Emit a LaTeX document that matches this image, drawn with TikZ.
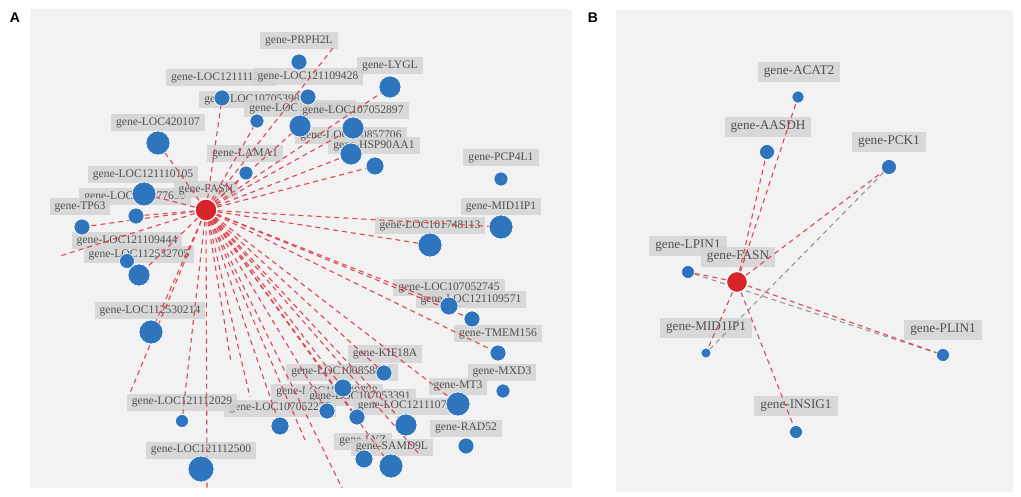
\documentclass[tikz,border=0pt]{standalone}
\usepackage{fontspec}
\setmainfont{Liberation Serif}
\newfontfamily\panelfont{Liberation Sans}
\definecolor{bgc}{RGB}{242,242,242}
\definecolor{nodeblue}{RGB}{46,117,190}
\definecolor{nodered}{RGB}{214,36,40}
\definecolor{edgered}{RGB}{222,70,80}
\definecolor{edgegray}{RGB}{150,150,150}
\definecolor{labfill}{RGB}{212,212,212}
\definecolor{labtext}{RGB}{80,80,80}
\pgfdeclarelayer{bg}\pgfdeclarelayer{labels}\pgfdeclarelayer{edges}
\pgfsetlayers{bg,labels,edges,main}
\tikzset{
  gnode/.style={circle, fill=nodeblue, draw=white, line width=0.6pt, inner sep=0pt},
  fnode/.style={circle, fill=nodered, draw=white, line width=1.2pt, inner sep=0pt},
  glab/.style={fill=labfill, fill opacity=0.85, text opacity=1, text=labtext, inner xsep=5pt, inner ysep=0pt, minimum height=17pt, font=\fontsize{11.6}{12}\selectfont},
  glabB/.style={glab, minimum height=20pt, inner xsep=6pt, font=\fontsize{13.2}{14}\selectfont},
  redline/.style={draw=edgered, line width=1.1pt, dash pattern=on 5pt off 4pt},
  grayline/.style={draw=edgegray, line width=1.1pt, dash pattern=on 5pt off 4pt},
  panel/.style={font=\panelfont\bfseries\fontsize{14}{14}\selectfont, inner sep=0pt}
}
\begin{document}
\begin{tikzpicture}[x=1pt,y=-1pt]
\useasboundingbox (0,0) rectangle (1021,497);
\begin{pgfonlayer}{bg}
\fill[bgc] (30,9) rectangle (572,488);
\fill[bgc] (616,10) rectangle (1013,492);
\end{pgfonlayer}
\node[panel] (pA) at (15,18) {A};
\node[panel] (pB) at (593,18) {B};

% ---------- Panel A nodes ----------
\node[gnode, minimum size=16pt] (aPRPH2L) at (299,62) {};
\node[gnode, minimum size=16pt] (a1218) at (222,98) {};
\node[gnode, minimum size=16pt] (a9428) at (308,97) {};
\node[gnode, minimum size=22pt] (aLYGL) at (390,87) {};
\node[gnode, minimum size=14pt] (a3980) at (257,121) {};
\node[gnode, minimum size=22pt] (a9473) at (300,126) {};
\node[gnode, minimum size=22pt] (a2897) at (353,128) {};
\node[gnode, minimum size=24pt] (a420107) at (158,143) {};
\node[gnode, minimum size=22pt] (a7706) at (351,154) {};
\node[gnode, minimum size=18pt] (aHSP) at (375,166) {};
\node[gnode, minimum size=14pt] (aLAMA1) at (246,173) {};
\node[gnode, minimum size=14pt] (aPCP) at (501,179) {};
\node[gnode, minimum size=24pt] (a0105) at (144,194) {};
\node[fnode, minimum size=22pt] (aFASN) at (206,210) {};
\node[gnode, minimum size=16pt] (a7650) at (136,216) {};
\node[gnode, minimum size=16pt] (aTP63) at (82,227) {};
\node[gnode, minimum size=24pt] (aMID) at (501,227) {};
\node[gnode, minimum size=24pt] (a8113) at (430,245) {};
\node[gnode, minimum size=15pt] (a9444) at (127,261) {};
\node[gnode, minimum size=22pt] (a2705) at (139,275) {};
\node[gnode, minimum size=24pt] (a0214) at (151,332) {};
\node[gnode, minimum size=18pt] (a2745) at (449,306) {};
\node[gnode, minimum size=16pt] (a9571) at (472,319) {};
\node[gnode, minimum size=16pt] (aTMEM) at (498,353) {};
\node[gnode, minimum size=16pt] (aKIF) at (384,373) {};
\node[gnode, minimum size=18pt] (a8881) at (343,388) {};
\node[gnode, minimum size=16pt] (a9798) at (327,411) {};
\node[gnode, minimum size=16pt] (a3391) at (357,417) {};
\node[gnode, minimum size=18pt] (a2275) at (280,426) {};
\node[gnode, minimum size=22pt] (a0748) at (406,425) {};
\node[gnode, minimum size=24pt] (aMT3) at (458,404) {};
\node[gnode, minimum size=14pt] (aMXD3) at (503,391) {};
\node[gnode, minimum size=16pt] (aRAD52) at (466,446) {};
\node[gnode, minimum size=18pt] (aLYZ) at (364,459) {};
\node[gnode, minimum size=24pt] (aSAMD) at (391,466) {};
\node[gnode, minimum size=13pt] (a2029) at (182,421) {};
\node[gnode, minimum size=26pt] (a2500) at (201,469) {};

% ---------- Panel A labels ----------
\begin{pgfonlayer}{labels}
\node[glab] (lPRPH2L) at (299,41) {gene-PRPH2L};
\node[glab] (l1218) at (221,78) {gene-LOC121111218};
\node[glab] (l9428) at (308,77) {gene-LOC121109428};
\node[glab] (lLYGL) at (390,66) {gene-LYGL};
\node[glab] (l3980) at (255,100) {gene-LOC107053980};
\node[glab] (l9473) at (300,109) {gene-LOC107059473};
\node[glab] (l2897) at (353,111) {gene-LOC107052897};
\node[glab] (l420107) at (158,123) {gene-LOC420107};
\node[glab] (l7706) at (351,136) {gene-LOC100857706};
\node[glab] (lHSP) at (374,146) {gene-HSP90AA1};
\node[glab] (lLAMA1) at (245,154) {gene-LAMA1};
\node[glab] (lPCP) at (501,158) {gene-PCP4L1};
\node[glab] (l0105) at (143,175) {gene-LOC121110105};
\node[glab] (l7650) at (135,197) {gene-LOC107077650};
\node[glab] (lFASN) at (206,190) {gene-FASN};
\node[glab] (lTP63) at (80,207) {gene-TP63};
\node[glab] (lMID) at (501,207) {gene-MID1IP1};
\node[glab] (l8113) at (430,226) {gene-LOC101748113};
\node[glab] (l9444) at (127,241) {gene-LOC121109444};
\node[glab] (l2705) at (139,255) {gene-LOC112532705};
\node[glab] (l0214) at (150,311) {gene-LOC112530214};
\node[glab] (l2745) at (449,288) {gene-LOC107052745};
\node[glab] (l9571) at (471,300) {gene-LOC121109571};
\node[glab] (lTMEM) at (498,334) {gene-TMEM156};
\node[glab] (lKIF) at (385,354) {gene-KIF18A};
\node[glab] (lMXD3) at (502,372) {gene-MXD3};
\node[glab] (l8881) at (342,372) {gene-LOC100858881};
\node[glab] (lMT3) at (458,386) {gene-MT3};
\node[glab] (l9798) at (327,392) {gene-LOC107049798};
\node[glab] (l3391) at (360,397) {gene-LOC107053391};
\node[glab] (l0748) at (408,406) {gene-LOC121110748};
\node[glab] (l2275) at (280,408) {gene-LOC107052275};
\node[glab] (l2029) at (182,402) {gene-LOC121112029};
\node[glab] (lRAD52) at (466,428) {gene-RAD52};
\node[glab] (lLYZ) at (363,441) {gene-LYZ};
\node[glab] (lSAMD) at (392,447) {gene-SAMD9L};
\node[glab] (l2500) at (201,450) {gene-LOC121112500};
\end{pgfonlayer}

% ---------- Panel A edges ----------
\coordinate (f1) at (333,48);
\coordinate (f2) at (60,256);
\coordinate (f3) at (130,393);
\coordinate (f4) at (207,488);
\coordinate (f5) at (342,488);
\coordinate (f6) at (231,362);
\coordinate (f7) at (250,397);
\coordinate (f8) at (305,440);
\coordinate (f9) at (420,455);
\begin{pgfonlayer}{edges}
\foreach \t in {a1218,a3980,a9473,a2897,aLYGL,a7706,aHSP,aLAMA1,a420107,a0105,a7650,aTP63,a2705,a0214,a2029,aMID,a8113,a2745,a9571,aTMEM,aKIF,a8881,a9798,a3391,a2275,a0748,aMT3,aSAMD,f1,f2,f3,f4,f5,f6,f7,f8,f9}
  \draw[redline] (aFASN) -- (\t);
\end{pgfonlayer}

% ---------- Panel B ----------
\node[gnode, minimum size=12pt] (bACAT2) at (798,97) {};
\node[gnode, minimum size=15pt] (bAASDH) at (767,152) {};
\node[gnode, minimum size=15pt] (bPCK1) at (889,167) {};
\node[gnode, minimum size=13pt] (bLPIN1) at (688,272) {};
\node[fnode, minimum size=21pt] (bFASN) at (737,282) {};
\node[gnode, minimum size=10pt] (bMID) at (706,353) {};
\node[gnode, minimum size=13pt] (bPLIN1) at (943,355) {};
\node[gnode, minimum size=13pt] (bINSIG1) at (796,432) {};
\begin{pgfonlayer}{labels}
\node[glabB] (lbACAT2) at (799,72) {gene-ACAT2};
\node[glabB] (lbAASDH) at (768,127) {gene-AASDH};
\node[glabB] (lbPCK1) at (889,142) {gene-PCK1};
\node[glabB] (lbLPIN1) at (688,246) {gene-LPIN1};
\node[glabB] (lbFASN) at (738,257) {gene-FASN};
\node[glabB] (lbMID) at (706,328) {gene-MID1IP1};
\node[glabB] (lbPLIN1) at (943,330) {gene-PLIN1};
\node[glabB] (lbINSIG1) at (796,406) {gene-INSIG1};
\end{pgfonlayer}
\begin{pgfonlayer}{edges}
\draw[grayline] (bPCK1) -- (bMID);
\draw[grayline] (bLPIN1) -- (bPLIN1);
\foreach \t in {bACAT2,bAASDH,bPCK1,bLPIN1,bMID,bPLIN1,bINSIG1}
  \draw[redline] (bFASN) -- (\t);
\end{pgfonlayer}
\end{tikzpicture}
\end{document}
